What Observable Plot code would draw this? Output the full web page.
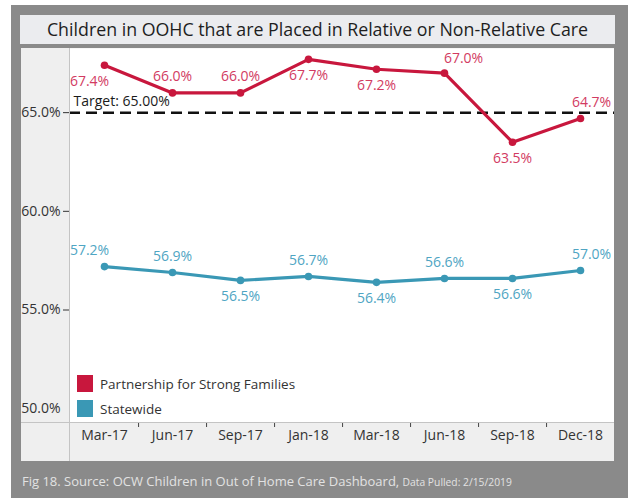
<!DOCTYPE html>
<html><head><meta charset="utf-8">
<script src="https://cdn.jsdelivr.net/npm/d3@7"></script>
<script src="https://cdn.jsdelivr.net/npm/@observablehq/plot@0.6"></script>
<style>
body{margin:0;background:#fff;font-family:"Open Sans",sans-serif;}
#frame{position:absolute;left:11px;top:5px;width:617px;height:493px;background:#8a8a8a;}
#title{position:absolute;left:20px;top:15px;width:595px;height:29px;background:#ebecef;color:#1e1e1e;font-size:17.8px;line-height:29px;text-align:center;white-space:nowrap;}
#chart{position:absolute;left:21px;top:48px;}
.ln{position:absolute;background:#c4c4c4;}
#legend{position:absolute;left:77px;top:371px;font-size:13.5px;color:#333;}
.item{display:flex;align-items:center;height:25px;}
.sw{width:16px;height:17px;margin-right:7px;}
#caption{position:absolute;left:22px;top:472px;color:#e2e2e2;font-size:13px;white-space:nowrap;}
#caption small{font-size:10.3px;}
</style></head>
<body>
<div id="frame"></div>
<div id="title"></div>
<div id="chart"></div>
<div class="ln" style="left:69px;top:48px;width:1px;height:413px"></div>
<div class="ln" style="left:21px;top:422px;width:593px;height:1px"></div>
<div id="legend"></div>
<div id="caption"></div>
<script>
const title = "Children in OOHC that are Placed in Relative or Non-Relative Care";
const quarters = ["Mar-17","Jun-17","Sep-17","Jan-18","Mar-18","Jun-18","Sep-18","Dec-18"];
const seriesNames = ["Partnership for Strong Families","Statewide"];
const psfValues = [67.4,66.0,66.0,67.7,67.2,67.0,63.5,64.7];
const statewideValues = [57.2,56.9,56.5,56.7,56.4,56.6,56.6,57.0];
const target = 65.0;
const yTicks = [50,55,60,65];
const captionMain = "Fig 18. Source: OCW Children in Out of Home Care Dashboard,";
const captionSmall = "Data Pulled: 2/15/2019";

// label placement (styling only)
const psfPlacement = ["below","above","above","below","below","top","below","above"];
const statewidePlacement = ["above","above","below","above","below","above","below","above"];
const psfShift = [-15,0,0,0,0,19,0,11];
const statewideShift = [-15,0,0,0,0,0,0,11];
const placementDy = {above: -16, below: 16, top: -15};

const lineColors = ["#c8173d","#3a98b5"];
const labelColors = ["#d23b62","#4fa5c3"];

const W = 593, H = 413, mL = 48, mB = 39;
const rows = [];
quarters.forEach((q,i)=>{
  rows.push({q, series: seriesNames[0], v: psfValues[i], place: psfPlacement[i], shift: psfShift[i], k:0});
  rows.push({q, series: seriesNames[1], v: statewideValues[i], place: statewidePlacement[i], shift: statewideShift[i], k:1});
});

const labelMarks = [];
for (const [key, grp] of d3.groups(rows, d => d.k + "|" + d.place + "|" + d.shift)) {
  const d0 = grp[0];
  labelMarks.push(Plot.text(grp, {
    x: "q", y: "v", text: d => d.v.toFixed(1) + "%",
    dx: d0.shift, dy: placementDy[d0.place],
    fill: labelColors[d0.k], fontSize: 14
  }));
}

const half = (W - mL) / quarters.length / 2;

const chart = Plot.plot({
  width: W, height: H,
  marginLeft: mL, marginRight: 0, marginTop: 0, marginBottom: mB,
  style: {background: "#efefef", fontFamily: "Open Sans", fontSize: "14px", color: "#333"},
  x: {type: "point", domain: quarters, padding: 0.5, label: null},
  y: {domain: [49.3, 68.25], label: null},
  color: {domain: seriesNames, range: lineColors},
  marks: [
    Plot.frame({fill: "white"}),
    Plot.axisY(yTicks.slice(1), {tickSize: 6, tickPadding: 3, tickFormat: d => d.toFixed(1) + "%", fontSize: 14, color: "#333"}),
    Plot.axisY(yTicks.slice(0,1), {tickSize: 0, tickPadding: 9, tickFormat: d => d.toFixed(1) + "%", fontSize: 14, color: "#333"}),
    Plot.axisX(quarters, {tickSize: 0, tickPadding: 8, fontSize: 14, color: "#333"}),
    Plot.axisX(quarters.slice(0,-1), {tickSize: 5, dx: half, stroke: "#444", fill: "none"}),
    Plot.ruleY([target], {stroke: "#111", strokeWidth: 2.5, strokeDasharray: "11,6"}),
    Plot.text([target], {y: d => d, frameAnchor: "left", text: d => `Target: ${d.toFixed(2)}%`, dx: 4, dy: -11, textAnchor: "start", fontSize: 14, fill: "#1a1a1a"}),
    Plot.line(rows, {x: "q", y: "v", z: "series", stroke: "series", strokeWidth: 3.2}),
    Plot.dot(rows, {x: "q", y: "v", fill: "series", r: 3.8}),
    ...labelMarks
  ]
});
document.getElementById("chart").appendChild(chart);
document.getElementById("title").textContent = title;
document.getElementById("legend").innerHTML = seriesNames.map((s,i)=>
  `<div class="item"><div class="sw" style="background:${lineColors[i]}"></div><span>${s}</span></div>`).join("");
document.getElementById("caption").innerHTML = `${captionMain} <small>${captionSmall}</small>`;
</script>
</body></html>
